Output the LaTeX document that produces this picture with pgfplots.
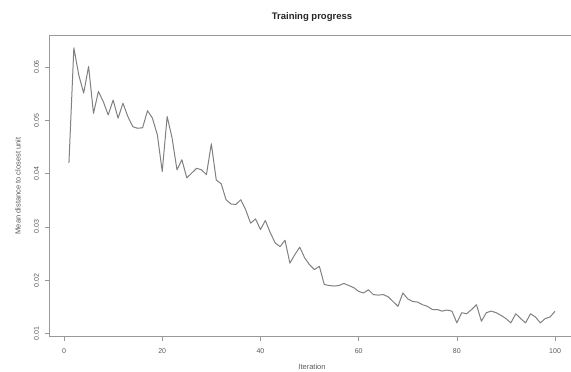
\documentclass[border=0pt]{standalone}
\usepackage{pgfplots}
\pgfplotsset{compat=1.18}
\usepackage{fontspec}
\setmainfont{Liberation Sans}
\pgfplotstableread{
it val
1 0.0420
2 0.0636
3 0.0585
4 0.0551
5 0.0601
6 0.0513
7 0.0554
8 0.0535
9 0.0510
10 0.0538
11 0.0504
12 0.0532
13 0.0507
14 0.0488
15 0.0485
16 0.0486
17 0.0518
18 0.0504
19 0.0473
20 0.0404
21 0.0507
22 0.0467
23 0.0407
24 0.0426
25 0.0392
26 0.0401
27 0.0410
28 0.0407
29 0.0398
30 0.0456
31 0.0388
32 0.0381
33 0.0351
34 0.0343
35 0.0342
36 0.0351
37 0.0332
38 0.0307
39 0.0315
40 0.0295
41 0.0312
42 0.0289
43 0.0270
44 0.0263
45 0.0275
46 0.0232
47 0.0248
48 0.0262
49 0.0242
50 0.0229
51 0.0220
52 0.0226
53 0.0192
54 0.0190
55 0.0189
56 0.0190
57 0.0194
58 0.0190
59 0.0186
60 0.0179
61 0.0176
62 0.0182
63 0.0173
64 0.0172
65 0.0173
66 0.0169
67 0.0160
68 0.0151
69 0.0176
70 0.0165
71 0.0160
72 0.0159
73 0.0154
74 0.0151
75 0.0145
76 0.0145
77 0.0142
78 0.0144
79 0.0142
80 0.0120
81 0.0139
82 0.0137
83 0.0145
84 0.0154
85 0.0123
86 0.0139
87 0.0142
88 0.0139
89 0.0134
90 0.0128
91 0.0120
92 0.0137
93 0.0128
94 0.0120
95 0.0137
96 0.0131
97 0.0120
98 0.0128
99 0.0131
100 0.0142
}\datatable
\begin{document}
\begin{tikzpicture}
\useasboundingbox (0pt,0pt) rectangle (571pt,372pt);
\begin{axis}[
  at={(49.5pt,35.3pt)}, anchor=south west,
  scale only axis, width=525pt, height=301.7pt,
  xmin=-2.96, xmax=103.96, ymin=0.0094, ymax=0.066,
  axis line style={black!40, line width=0.7pt},
  tick style={black!40, line width=0.7pt},
  tick align=outside, major tick length=4pt,
  xtick pos=bottom, ytick pos=left,
  xtick={0,20,40,60,80,100},
  ytick={0.01,0.02,0.03,0.04,0.05,0.06},
  yticklabels={0.01,0.02,0.03,0.04,0.05,0.06},
  scaled y ticks=false,
  /pgf/number format/assume math mode=true,
  tick label style={font=\fontsize{7}{8}\selectfont, text=black!65},
  xticklabel style={yshift=-4pt},
  yticklabel style={rotate=90, anchor=south, yshift=3pt},
  clip=false,
]
\addplot[black!50, line width=1pt, line join=round] table[x=it, y=val] {\datatable};
\end{axis}
\node[font=\bfseries\fontsize{9.5}{11}\selectfont, text=black!85] at (312pt,355pt) {Training progress};
\node[font=\fontsize{7.5}{9}\selectfont, text=black!65] at (312pt,5pt) {Iteration};
\node[rotate=90, font=\fontsize{7.5}{9}\selectfont, text=black!65] at (18pt,186pt) {Mean distance to closest unit};
\end{tikzpicture}
\end{document}
